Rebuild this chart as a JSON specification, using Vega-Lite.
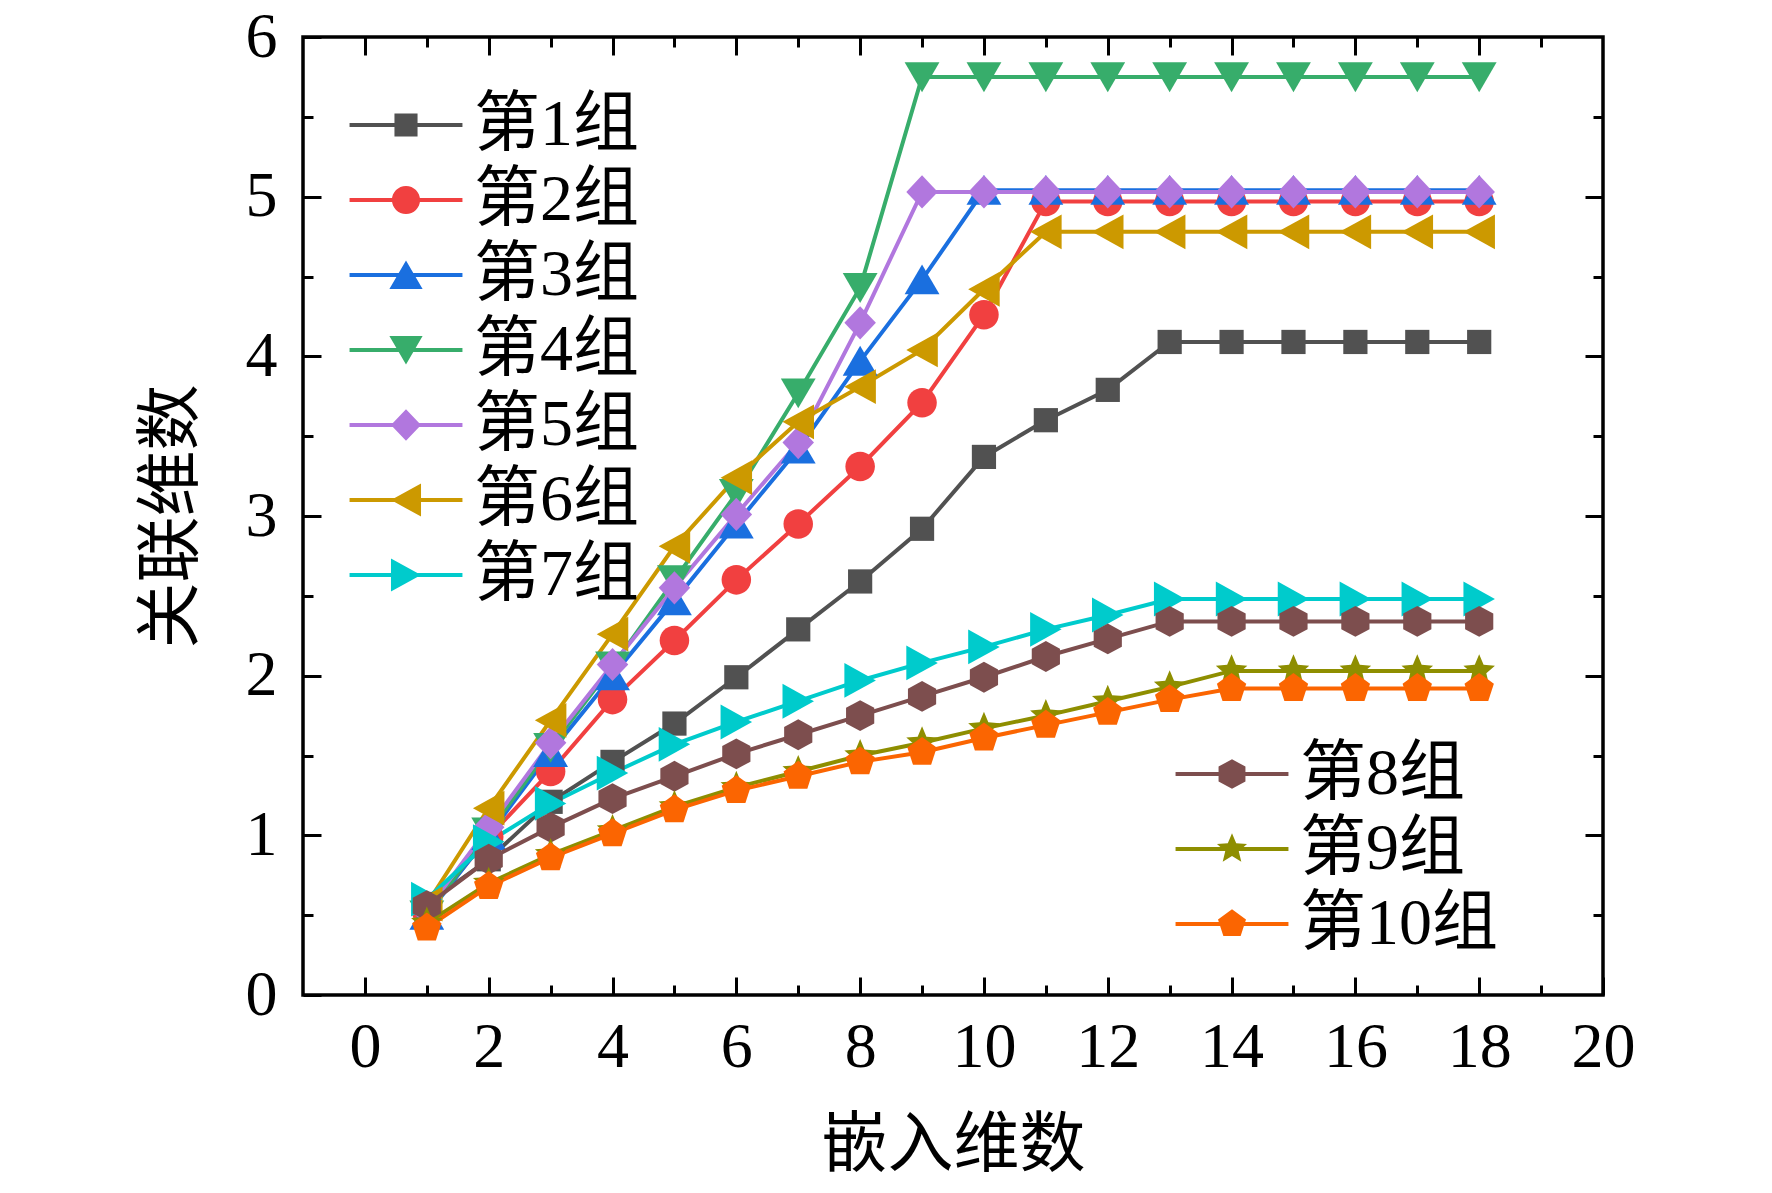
{
  "$schema": "https://vega.github.io/schema/vega-lite/v6.json",
  "width": 1300,
  "height": 958,
  "autosize": "none",
  "padding": {"left": 303, "top": 37, "right": 169, "bottom": 198},
  "config": {
    "view": {"stroke": "black", "strokeWidth": 3.5},
    "axis": {"grid": false}
  },
  "datasets": {
    "a": [
      {"group": "第1组", "embed": 1, "corr": 0.57}, {"group": "第1组", "embed": 2, "corr": 0.85}, {"group": "第1组", "embed": 3, "corr": 1.21},
      {"group": "第1组", "embed": 4, "corr": 1.46}, {"group": "第1组", "embed": 5, "corr": 1.70}, {"group": "第1组", "embed": 6, "corr": 1.99},
      {"group": "第1组", "embed": 7, "corr": 2.29}, {"group": "第1组", "embed": 8, "corr": 2.59}, {"group": "第1组", "embed": 9, "corr": 2.92},
      {"group": "第1组", "embed": 10, "corr": 3.37}, {"group": "第1组", "embed": 11, "corr": 3.60}, {"group": "第1组", "embed": 12, "corr": 3.79},
      {"group": "第1组", "embed": 13, "corr": 4.09}, {"group": "第1组", "embed": 14, "corr": 4.09}, {"group": "第1组", "embed": 15, "corr": 4.09},
      {"group": "第1组", "embed": 16, "corr": 4.09}, {"group": "第1组", "embed": 17, "corr": 4.09}, {"group": "第1组", "embed": 18, "corr": 4.09},

      {"group": "第2组", "embed": 1, "corr": 0.52}, {"group": "第2组", "embed": 2, "corr": 0.99}, {"group": "第2组", "embed": 3, "corr": 1.40},
      {"group": "第2组", "embed": 4, "corr": 1.85}, {"group": "第2组", "embed": 5, "corr": 2.22}, {"group": "第2组", "embed": 6, "corr": 2.60},
      {"group": "第2组", "embed": 7, "corr": 2.95}, {"group": "第2组", "embed": 8, "corr": 3.31}, {"group": "第2组", "embed": 9, "corr": 3.71},
      {"group": "第2组", "embed": 10, "corr": 4.26}, {"group": "第2组", "embed": 11, "corr": 4.97}, {"group": "第2组", "embed": 12, "corr": 4.97},
      {"group": "第2组", "embed": 13, "corr": 4.97}, {"group": "第2组", "embed": 14, "corr": 4.97}, {"group": "第2组", "embed": 15, "corr": 4.97},
      {"group": "第2组", "embed": 16, "corr": 4.97}, {"group": "第2组", "embed": 17, "corr": 4.97}, {"group": "第2组", "embed": 18, "corr": 4.97},

      {"group": "第3组", "embed": 1, "corr": 0.50}, {"group": "第3组", "embed": 2, "corr": 1.00}, {"group": "第3组", "embed": 3, "corr": 1.52},
      {"group": "第3组", "embed": 4, "corr": 2.00}, {"group": "第3组", "embed": 5, "corr": 2.47}, {"group": "第3组", "embed": 6, "corr": 2.95},
      {"group": "第3组", "embed": 7, "corr": 3.42}, {"group": "第3组", "embed": 8, "corr": 3.97}, {"group": "第3组", "embed": 9, "corr": 4.48},
      {"group": "第3组", "embed": 10, "corr": 5.04}, {"group": "第3组", "embed": 11, "corr": 5.04}, {"group": "第3组", "embed": 12, "corr": 5.04},
      {"group": "第3组", "embed": 13, "corr": 5.04}, {"group": "第3组", "embed": 14, "corr": 5.04}, {"group": "第3组", "embed": 15, "corr": 5.04},
      {"group": "第3组", "embed": 16, "corr": 5.04}, {"group": "第3组", "embed": 17, "corr": 5.04}, {"group": "第3组", "embed": 18, "corr": 5.04},

      {"group": "第4组", "embed": 1, "corr": 0.50}, {"group": "第4组", "embed": 2, "corr": 1.02}, {"group": "第4组", "embed": 3, "corr": 1.55},
      {"group": "第4组", "embed": 4, "corr": 2.06}, {"group": "第4组", "embed": 5, "corr": 2.60}, {"group": "第4组", "embed": 6, "corr": 3.14},
      {"group": "第4组", "embed": 7, "corr": 3.77}, {"group": "第4组", "embed": 8, "corr": 4.43}, {"group": "第4组", "embed": 9, "corr": 5.75},
      {"group": "第4组", "embed": 10, "corr": 5.75}, {"group": "第4组", "embed": 11, "corr": 5.75}, {"group": "第4组", "embed": 12, "corr": 5.75},
      {"group": "第4组", "embed": 13, "corr": 5.75}, {"group": "第4组", "embed": 14, "corr": 5.75}, {"group": "第4组", "embed": 15, "corr": 5.75},
      {"group": "第4组", "embed": 16, "corr": 5.75}, {"group": "第4组", "embed": 17, "corr": 5.75}, {"group": "第4组", "embed": 18, "corr": 5.75},

      {"group": "第5组", "embed": 1, "corr": 0.53}, {"group": "第5组", "embed": 2, "corr": 1.05}, {"group": "第5组", "embed": 3, "corr": 1.58},
      {"group": "第5组", "embed": 4, "corr": 2.07}, {"group": "第5组", "embed": 5, "corr": 2.55}, {"group": "第5组", "embed": 6, "corr": 3.01},
      {"group": "第5组", "embed": 7, "corr": 3.46}, {"group": "第5组", "embed": 8, "corr": 4.21}, {"group": "第5组", "embed": 9, "corr": 5.03},
      {"group": "第5组", "embed": 10, "corr": 5.03}, {"group": "第5组", "embed": 11, "corr": 5.03}, {"group": "第5组", "embed": 12, "corr": 5.03},
      {"group": "第5组", "embed": 13, "corr": 5.03}, {"group": "第5组", "embed": 14, "corr": 5.03}, {"group": "第5组", "embed": 15, "corr": 5.03},
      {"group": "第5组", "embed": 16, "corr": 5.03}, {"group": "第5组", "embed": 17, "corr": 5.03}, {"group": "第5组", "embed": 18, "corr": 5.03},

      {"group": "第6组", "embed": 1, "corr": 0.57}, {"group": "第6组", "embed": 2, "corr": 1.17}, {"group": "第6组", "embed": 3, "corr": 1.72},
      {"group": "第6组", "embed": 4, "corr": 2.26}, {"group": "第6组", "embed": 5, "corr": 2.81}, {"group": "第6组", "embed": 6, "corr": 3.24},
      {"group": "第6组", "embed": 7, "corr": 3.59}, {"group": "第6组", "embed": 8, "corr": 3.81}, {"group": "第6组", "embed": 9, "corr": 4.04},
      {"group": "第6组", "embed": 10, "corr": 4.42}, {"group": "第6组", "embed": 11, "corr": 4.78}, {"group": "第6组", "embed": 12, "corr": 4.78},
      {"group": "第6组", "embed": 13, "corr": 4.78}, {"group": "第6组", "embed": 14, "corr": 4.78}, {"group": "第6组", "embed": 15, "corr": 4.78},
      {"group": "第6组", "embed": 16, "corr": 4.78}, {"group": "第6组", "embed": 17, "corr": 4.78}, {"group": "第6组", "embed": 18, "corr": 4.78},

      {"group": "第7组", "embed": 1, "corr": 0.60}, {"group": "第7组", "embed": 2, "corr": 0.96}, {"group": "第7组", "embed": 3, "corr": 1.20},
      {"group": "第7组", "embed": 4, "corr": 1.39}, {"group": "第7组", "embed": 5, "corr": 1.57}, {"group": "第7组", "embed": 6, "corr": 1.71},
      {"group": "第7组", "embed": 7, "corr": 1.84}, {"group": "第7组", "embed": 8, "corr": 1.97}, {"group": "第7组", "embed": 9, "corr": 2.08},
      {"group": "第7组", "embed": 10, "corr": 2.18}, {"group": "第7组", "embed": 11, "corr": 2.29}, {"group": "第7组", "embed": 12, "corr": 2.38},
      {"group": "第7组", "embed": 13, "corr": 2.48}, {"group": "第7组", "embed": 14, "corr": 2.48}, {"group": "第7组", "embed": 15, "corr": 2.48},
      {"group": "第7组", "embed": 16, "corr": 2.48}, {"group": "第7组", "embed": 17, "corr": 2.48}, {"group": "第7组", "embed": 18, "corr": 2.48}
    ],
    "b": [
      {"group": "第8组", "embed": 1, "corr": 0.56}, {"group": "第8组", "embed": 2, "corr": 0.85}, {"group": "第8组", "embed": 3, "corr": 1.05},
      {"group": "第8组", "embed": 4, "corr": 1.23}, {"group": "第8组", "embed": 5, "corr": 1.37}, {"group": "第8组", "embed": 6, "corr": 1.51},
      {"group": "第8组", "embed": 7, "corr": 1.63}, {"group": "第8组", "embed": 8, "corr": 1.75}, {"group": "第8组", "embed": 9, "corr": 1.87},
      {"group": "第8组", "embed": 10, "corr": 1.99}, {"group": "第8组", "embed": 11, "corr": 2.12}, {"group": "第8组", "embed": 12, "corr": 2.23},
      {"group": "第8组", "embed": 13, "corr": 2.34}, {"group": "第8组", "embed": 14, "corr": 2.34}, {"group": "第8组", "embed": 15, "corr": 2.34},
      {"group": "第8组", "embed": 16, "corr": 2.34}, {"group": "第8组", "embed": 17, "corr": 2.34}, {"group": "第8组", "embed": 18, "corr": 2.34},

      {"group": "第9组", "embed": 1, "corr": 0.45}, {"group": "第9组", "embed": 2, "corr": 0.70}, {"group": "第9组", "embed": 3, "corr": 0.88},
      {"group": "第9组", "embed": 4, "corr": 1.03}, {"group": "第9组", "embed": 5, "corr": 1.18}, {"group": "第9组", "embed": 6, "corr": 1.30},
      {"group": "第9组", "embed": 7, "corr": 1.40}, {"group": "第9组", "embed": 8, "corr": 1.50}, {"group": "第9组", "embed": 9, "corr": 1.58},
      {"group": "第9组", "embed": 10, "corr": 1.67}, {"group": "第9组", "embed": 11, "corr": 1.75}, {"group": "第9组", "embed": 12, "corr": 1.84},
      {"group": "第9组", "embed": 13, "corr": 1.93}, {"group": "第9组", "embed": 14, "corr": 2.03}, {"group": "第9组", "embed": 15, "corr": 2.03},
      {"group": "第9组", "embed": 16, "corr": 2.03}, {"group": "第9组", "embed": 17, "corr": 2.03}, {"group": "第9组", "embed": 18, "corr": 2.03},

      {"group": "第10组", "embed": 1, "corr": 0.42}, {"group": "第10组", "embed": 2, "corr": 0.68}, {"group": "第10组", "embed": 3, "corr": 0.86},
      {"group": "第10组", "embed": 4, "corr": 1.01}, {"group": "第10组", "embed": 5, "corr": 1.16}, {"group": "第10组", "embed": 6, "corr": 1.28},
      {"group": "第10组", "embed": 7, "corr": 1.37}, {"group": "第10组", "embed": 8, "corr": 1.46}, {"group": "第10组", "embed": 9, "corr": 1.52},
      {"group": "第10组", "embed": 10, "corr": 1.61}, {"group": "第10组", "embed": 11, "corr": 1.69}, {"group": "第10组", "embed": 12, "corr": 1.77},
      {"group": "第10组", "embed": 13, "corr": 1.85}, {"group": "第10组", "embed": 14, "corr": 1.92}, {"group": "第10组", "embed": 15, "corr": 1.92},
      {"group": "第10组", "embed": 16, "corr": 1.92}, {"group": "第10组", "embed": 17, "corr": 1.92}, {"group": "第10组", "embed": 18, "corr": 1.92}
    ]
  },
  "layer": [
    {
      "data": {"name": "a"},
      "layer": [
        {
          "mark": {"type": "line", "strokeWidth": 4},
          "encoding": {
            "x": {"field": "embed", "type": "quantitative", "scale": {"domain": [-1, 20], "nice": false, "zero": false}, "axis": null},
            "y": {"field": "corr", "type": "quantitative", "scale": {"domain": [0, 6], "nice": false}, "axis": null},
            "color": {
              "field": "group", "type": "nominal",
              "scale": {
                "domain": ["第1组", "第2组", "第3组", "第4组", "第5组", "第6组", "第7组"],
                "range": ["#515151", "#F14040", "#1A6FDF", "#37AD6B", "#B177DE", "#CC9900", "#00CBCC"]
              },
              "legend": null
            }
          }
        },
        {
          "mark": {"type": "point", "filled": true, "opacity": 1, "size": 1100, "strokeWidth": 0},
          "encoding": {
            "x": {"field": "embed", "type": "quantitative", "axis": null},
            "y": {"field": "corr", "type": "quantitative", "axis": null},
            "color": {"field": "group", "type": "nominal", "legend": null},
            "shape": {
              "field": "group", "type": "nominal",
              "scale": {
                "domain": ["第1组", "第2组", "第3组", "第4组", "第5组", "第6组", "第7组"],
                "range": [
                  "M-0.73,-0.73H0.73V0.73H-0.73Z",
                  "M-0.89,0A0.89,0.89 0 1,1 0.89,0A0.89,0.89 0 1,1 -0.89,0Z",
                  "M0,-0.92L1.05,0.88L-1.05,0.88Z",
                  "M0,0.92L-1.05,-0.88L1.05,-0.88Z",
                  "M0,-1L0.95,0L0,1L-0.95,0Z",
                  "M-0.95,0L0.95,-1.05L0.95,1.05Z",
                  "M0.95,0L-0.95,1.05L-0.95,-1.05Z"
                ]
              },
              "legend": null
            }
          }
        }
      ]
    },
    {
      "data": {"name": "b"},
      "layer": [
        {
          "mark": {"type": "line", "strokeWidth": 4},
          "encoding": {
            "x": {"field": "embed", "type": "quantitative", "axis": null},
            "y": {"field": "corr", "type": "quantitative", "axis": null},
            "color": {
              "field": "group", "type": "nominal",
              "scale": {
                "domain": ["第8组", "第9组", "第10组"],
                "range": ["#7D4E4E", "#8E8E00", "#FB6501"]
              },
              "legend": null
            }
          }
        },
        {
          "mark": {"type": "point", "filled": true, "opacity": 1, "size": 1100, "strokeWidth": 0},
          "encoding": {
            "x": {"field": "embed", "type": "quantitative", "axis": null},
            "y": {"field": "corr", "type": "quantitative", "axis": null},
            "color": {"field": "group", "type": "nominal", "legend": null},
            "shape": {
              "field": "group", "type": "nominal",
              "scale": {
                "domain": ["第8组", "第9组", "第10组"],
                "range": [
                  "M0,-0.93L0.85,-0.47L0.85,0.47L0,0.93L-0.85,0.47L-0.85,-0.47Z",
                  "M0,-1L0.265,-0.364L0.951,-0.309L0.428,0.139L0.588,0.809L0,0.45L-0.588,0.809L-0.428,0.139L-0.951,-0.309L-0.265,-0.364Z",
                  "M0,-0.93L0.885,-0.287L0.547,0.752L-0.547,0.752L-0.885,-0.287Z"
                ]
              },
              "legend": null
            }
          }
        }
      ]
    },
    {
      "data": {"name": "a"},
      "mark": {"type": "point", "filled": true, "opacity": 0, "size": 1000, "strokeWidth": 0},
      "encoding": {
        "x": {"field": "embed", "type": "quantitative", "axis": null},
        "y": {"field": "corr", "type": "quantitative", "axis": null},
        "color": {
          "field": "group", "type": "nominal",
          "scale": {
            "domain": ["第1组", "第2组", "第3组", "第4组", "第5组", "第6组", "第7组"],
            "range": ["#515151", "#F14040", "#1A6FDF", "#37AD6B", "#B177DE", "#CC9900", "#00CBCC"]
          },
          "legend": {
            "orient": "none", "legendX": 70, "legendY": 55, "title": null, "padding": 0,
            "symbolSize": 1000, "symbolStrokeWidth": 0, "symbolOpacity": 1, "labelOffset": 35, "labelLimit": 0,
            "labelFontSize": 66, "labelFont": "Liberation Serif, Noto Sans CJK SC", "labelColor": "black", "rowPadding": 9
          }
        },
        "shape": {
          "field": "group", "type": "nominal",
          "scale": {
            "domain": ["第1组", "第2组", "第3组", "第4组", "第5组", "第6组", "第7组"],
            "range": [
              "M-3.57,-0.12H3.57V0.12H-3.57ZM-0.73,-0.73H0.73V0.73H-0.73Z",
              "M-3.57,-0.12H3.57V0.12H-3.57ZM-0.89,0A0.89,0.89 0 1,1 0.89,0A0.89,0.89 0 1,1 -0.89,0Z",
              "M-3.57,-0.12H3.57V0.12H-3.57ZM0,-0.92L1.05,0.88L-1.05,0.88Z",
              "M-3.57,-0.12H3.57V0.12H-3.57ZM0,0.92L-1.05,-0.88L1.05,-0.88Z",
              "M-3.57,-0.12H3.57V0.12H-3.57ZM0,-1L0.95,0L0,1L-0.95,0Z",
              "M-3.57,-0.12H3.57V0.12H-3.57ZM-0.95,0L0.95,-1.05L0.95,1.05Z",
              "M-3.57,-0.12H3.57V0.12H-3.57ZM0.95,0L-0.95,1.05L-0.95,-1.05Z"
            ]
          },
          "legend": {
            "orient": "none", "legendX": 70, "legendY": 55, "title": null, "padding": 0,
            "symbolSize": 1000, "symbolStrokeWidth": 0, "symbolOpacity": 1, "labelOffset": 35, "labelLimit": 0,
            "labelFontSize": 66, "labelFont": "Liberation Serif, Noto Sans CJK SC", "labelColor": "black", "rowPadding": 9
          }
        }
      }
    },
    {
      "data": {"name": "b"},
      "mark": {"type": "point", "filled": true, "opacity": 0, "size": 1000, "strokeWidth": 0},
      "encoding": {
        "x": {"field": "embed", "type": "quantitative", "axis": null},
        "y": {"field": "corr", "type": "quantitative", "axis": null},
        "color": {
          "field": "group", "type": "nominal",
          "scale": {
            "domain": ["第8组", "第9组", "第10组"],
            "range": ["#7D4E4E", "#8E8E00", "#FB6501"]
          },
          "legend": {
            "orient": "none", "legendX": 896, "legendY": 704, "title": null, "padding": 0,
            "symbolSize": 1000, "symbolStrokeWidth": 0, "symbolOpacity": 1, "labelOffset": 35, "labelLimit": 0,
            "labelFontSize": 66, "labelFont": "Liberation Serif, Noto Sans CJK SC", "labelColor": "black", "rowPadding": 9
          }
        },
        "shape": {
          "field": "group", "type": "nominal",
          "scale": {
            "domain": ["第8组", "第9组", "第10组"],
            "range": [
              "M-3.57,-0.12H3.57V0.12H-3.57ZM0,-0.93L0.85,-0.47L0.85,0.47L0,0.93L-0.85,0.47L-0.85,-0.47Z",
              "M-3.57,-0.12H3.57V0.12H-3.57ZM0,-1L0.265,-0.364L0.951,-0.309L0.428,0.139L0.588,0.809L0,0.45L-0.588,0.809L-0.428,0.139L-0.951,-0.309L-0.265,-0.364Z",
              "M-3.57,-0.12H3.57V0.12H-3.57ZM0,-0.93L0.885,-0.287L0.547,0.752L-0.547,0.752L-0.885,-0.287Z"
            ]
          },
          "legend": {
            "orient": "none", "legendX": 896, "legendY": 704, "title": null, "padding": 0,
            "symbolSize": 1000, "symbolStrokeWidth": 0, "symbolOpacity": 1, "labelOffset": 35, "labelLimit": 0,
            "labelFontSize": 66, "labelFont": "Liberation Serif, Noto Sans CJK SC", "labelColor": "black", "rowPadding": 9
          }
        }
      }
    },
    {
      "data": {"name": "a"},
      "mark": {"type": "point", "opacity": 0},
      "encoding": {
        "x": {
          "field": "embed", "type": "quantitative",
          "axis": {
            "orient": "bottom", "values": [0, 2, 4, 6, 8, 10, 12, 14, 16, 18, 20],
            "tickSize": -18, "tickWidth": 3, "tickColor": "black", "domain": false,
            "labelFontSize": 64, "labelFont": "Liberation Serif", "labelColor": "black", "labelPadding": 38, "labelFlush": false,
            "title": "嵌入维数", "titleFontSize": 66, "titleFont": "Noto Sans CJK SC", "titleFontWeight": "normal", "titleColor": "black", "titlePadding": 34
          }
        },
        "y": {
          "field": "corr", "type": "quantitative",
          "axis": {
            "orient": "left", "values": [0, 1, 2, 3, 4, 5, 6],
            "tickSize": -18, "tickWidth": 3, "tickColor": "black", "domain": false,
            "labelFontSize": 64, "labelFont": "Liberation Serif", "labelColor": "black", "labelPadding": 44, "labelFlush": false,
            "title": "关联维数", "titleFontSize": 66, "titleFont": "Noto Sans CJK SC", "titleFontWeight": "normal", "titleColor": "black", "titlePadding": 40
          }
        }
      }
    },
    {
      "data": {"name": "a"},
      "mark": {"type": "point", "opacity": 0},
      "encoding": {
        "x": {
          "field": "embed", "type": "quantitative",
          "axis": {"orient": "bottom", "values": [1, 3, 5, 7, 9, 11, 13, 15, 17, 19], "tickSize": -10, "tickWidth": 3, "tickColor": "black", "domain": false, "labels": false, "title": null}
        },
        "y": {
          "field": "corr", "type": "quantitative",
          "axis": {"orient": "left", "values": [0.5, 1.5, 2.5, 3.5, 4.5, 5.5], "tickSize": -10, "tickWidth": 3, "tickColor": "black", "domain": false, "labels": false, "title": null}
        }
      }
    },
    {
      "data": {"name": "a"},
      "mark": {"type": "point", "opacity": 0},
      "encoding": {
        "x": {
          "field": "embed", "type": "quantitative",
          "axis": {"orient": "top", "values": [0, 2, 4, 6, 8, 10, 12, 14, 16, 18], "tickSize": -18, "tickWidth": 3, "tickColor": "black", "domain": false, "labels": false, "title": null}
        },
        "y": {
          "field": "corr", "type": "quantitative",
          "axis": {"orient": "right", "values": [1, 2, 3, 4, 5], "tickSize": -18, "tickWidth": 3, "tickColor": "black", "domain": false, "labels": false, "title": null}
        }
      }
    },
    {
      "data": {"name": "a"},
      "mark": {"type": "point", "opacity": 0},
      "encoding": {
        "x": {
          "field": "embed", "type": "quantitative",
          "axis": {"orient": "top", "values": [1, 3, 5, 7, 9, 11, 13, 15, 17, 19], "tickSize": -10, "tickWidth": 3, "tickColor": "black", "domain": false, "labels": false, "title": null}
        },
        "y": {
          "field": "corr", "type": "quantitative",
          "axis": {"orient": "right", "values": [0.5, 1.5, 2.5, 3.5, 4.5, 5.5], "tickSize": -10, "tickWidth": 3, "tickColor": "black", "domain": false, "labels": false, "title": null}
        }
      }
    }
  ],
  "resolve": {
    "scale": {"color": "independent", "shape": "independent"},
    "axis": {"x": "independent", "y": "independent"}
  }
}
